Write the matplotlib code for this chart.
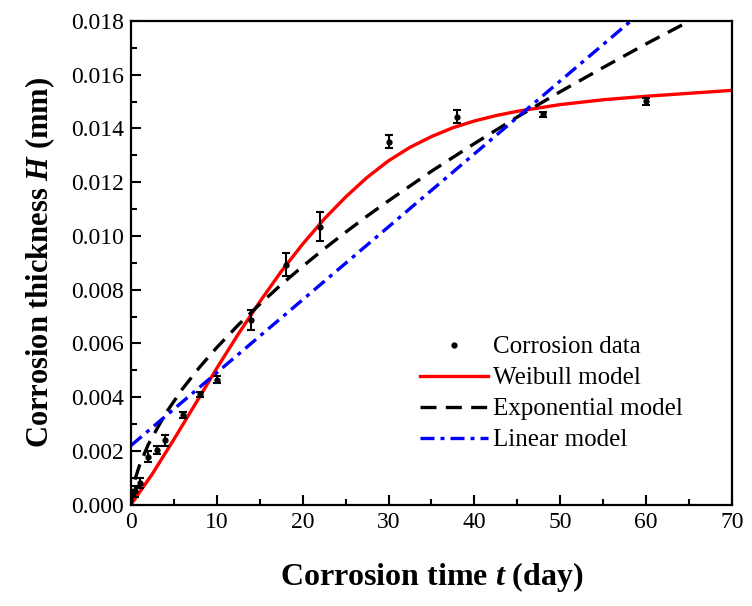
import numpy as np
import matplotlib
matplotlib.use("Agg")
import matplotlib.pyplot as plt
from matplotlib.ticker import MultipleLocator
from matplotlib.lines import Line2D

plt.rcParams['font.family'] = ['Liberation Serif', 'DejaVu Serif']
plt.rcParams['mathtext.fontset'] = 'custom'
plt.rcParams['mathtext.it'] = 'Liberation Serif:italic:bold'
plt.rcParams['mathtext.rm'] = 'Liberation Serif:bold'

# measured corrosion thickness (mm) with error bars
t_data = [0.5, 1, 2, 3, 4, 6, 8, 10, 14, 18, 22, 30, 38, 48, 60]
h_data = [0.0005, 0.0008, 0.00178, 0.00203, 0.0024, 0.00334, 0.0041, 0.00465,
          0.00687, 0.00893, 0.01034, 0.0135, 0.01444, 0.01453, 0.01502]
h_err = [0.0002, 0.0002, 0.0002, 0.00015, 0.0002, 0.0001, 0.0001, 0.00012,
         0.00037, 0.00043, 0.00054, 0.00024, 0.00024, 0.0001, 0.00013]

# model curves
t_wb = [0, 2.5, 5, 7.5, 10, 12.5, 15, 17.5, 20, 22.5, 25, 27.5, 30, 32.5,
        35, 37.5, 40, 42.5, 45, 50, 55, 60, 65, 70]
weibull = [0, 0.00115, 0.00243, 0.00375, 0.00508, 0.00635, 0.00755, 0.00868,
           0.0097, 0.01063, 0.01145, 0.01218, 0.0128, 0.0133, 0.0137,
           0.01403, 0.01428, 0.01448, 0.01464, 0.01489, 0.01507, 0.0152,
           0.01531, 0.01542]
t_exp = [0, 0.5, 1, 2, 4, 6, 8, 10, 12.5, 15, 17.5, 20, 22.5, 25, 27.5, 30,
         35, 40, 45, 50, 55, 60, 65, 70]
expo = [0, 0.00097, 0.00147, 0.00223, 0.00338, 0.00431, 0.00512, 0.00585,
        0.00669, 0.00746, 0.00819, 0.00887, 0.00952, 0.01014, 0.01074,
        0.01131, 0.01241, 0.01344, 0.01443, 0.01537, 0.01627, 0.01715,
        0.01799, 0.0188]
t_lin = [0, 70]
linear = [0.0022, 0.0212]

fig = plt.figure(figsize=(7.52, 6.06), dpi=100)
ax = fig.add_axes([0.1742, 0.1673, 0.7992, 0.798])

ax.errorbar(t_data, h_data, yerr=h_err, fmt='o', color='black', ms=3.5,
            elinewidth=1.5, capsize=3, capthick=1.5, zorder=5)
ax.plot(t_wb, weibull, color='red', lw=2.4)
ax.plot(t_exp, expo, color='black', lw=2.4, ls=(0, (4.8, 2.8)))
ax.plot(t_lin, linear, color='blue', lw=2.4, ls=(0, (4.2, 1.8, 1.2, 1.8)))

ax.set_xlim(0, 70)
ax.set_ylim(0, 0.018)
ax.xaxis.set_major_locator(MultipleLocator(10))
ax.xaxis.set_minor_locator(MultipleLocator(5))
ax.yaxis.set_major_locator(MultipleLocator(0.002))
ax.yaxis.set_minor_locator(MultipleLocator(0.001))
ax.yaxis.set_major_formatter(plt.FormatStrFormatter('%.3f'))
ax.tick_params(which='both', direction='in', width=1.5, labelsize=17,
               top=False, right=False)
ax.tick_params(which='major', length=7, pad=5)
ax.tick_params(which='minor', length=4)
for s in ax.spines.values():
    s.set_linewidth(1.6)

ax.set_xlabel(r'Corrosion time $t$ (day)', fontsize=23, fontweight='bold',
              labelpad=20)
ax.set_ylabel(r'Corrosion thickness $H$ (mm)', fontsize=22, fontweight='bold',
              labelpad=10)

handles = [Line2D([], [], ls='none', marker='o', ms=3.5, color='black'),
           Line2D([], [], color='red', lw=2.4),
           Line2D([], [], color='black', lw=2.4, ls=(0, (4.8, 2.8))),
           Line2D([], [], color='blue', lw=2.4, ls=(0, (4.2, 1.8, 1.2, 1.8)))]
labels = ['Corrosion data', 'Weibull model', 'Exponential model', 'Linear model']
ax.legend(handles, labels, loc='upper left', bbox_to_anchor=(0.481, 0.349),
          frameon=False, fontsize=18, handlelength=2.7, borderpad=0,
          borderaxespad=0, labelspacing=0.34, handletextpad=0.2)

fig.savefig('out.png', dpi=100)
